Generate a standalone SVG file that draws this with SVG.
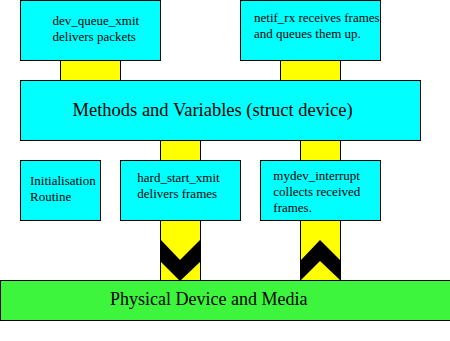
<svg xmlns="http://www.w3.org/2000/svg" width="450" height="341" viewBox="0 0 450 341">
<style>
.box{fill:#00ffff;stroke:#000;stroke-width:1}
.bar{fill:#ffff00;stroke:#000;stroke-width:1}
.phys{fill:#3cf53c;stroke:#000;stroke-width:1}
.chev{fill:#000;stroke:none}
.t{font-family:"Liberation Serif","Times New Roman",serif;font-size:13px;fill:#000}
.big{font-family:"Liberation Serif","Times New Roman",serif;font-size:18px;fill:#000}
</style>
<rect width="450" height="341" fill="#fff"/>
<g id="connectors">
<rect class="bar" x="60.5" y="60.5" width="60" height="20"/>
<rect class="bar" x="280.5" y="60.5" width="60" height="20"/>
<rect class="bar" x="160.5" y="140.5" width="40" height="20"/>
<rect class="bar" x="300.5" y="140.5" width="40" height="20"/>
<rect class="bar" x="160.5" y="220.5" width="40" height="60"/>
<rect class="bar" x="300.5" y="220.5" width="40" height="60"/>
<polygon class="chev" points="161,240 180,260 200,240 200,262 180,281 161,262"/>
<polygon class="chev" points="301,260 320,240 340,260 340,280 320,261 301,280"/>
</g>
<g id="dev_queue_xmit">
<rect class="box" x="20.5" y="0.5" width="140" height="60"/>
<text class="t" x="52.5" y="25">dev_queue_xmit</text>
<text class="t" x="52.5" y="40.7">delivers packets</text>
</g>
<g id="netif_rx">
<rect class="box" x="240.5" y="0.5" width="140" height="60"/>
<text class="t" x="254" y="22">netif_rx receives frames</text>
<text class="t" x="254" y="38">and queues them up.</text>
</g>
<g id="methods">
<rect class="box" x="20.5" y="80.5" width="400" height="60"/>
<text class="big" x="72.5" y="115.7" style="font-size:18.5px">Methods and Variables (struct device)</text>
</g>
<g id="init">
<rect class="box" x="20.5" y="160.5" width="80" height="60"/>
<text class="t" x="30" y="185">Initialisation</text>
<text class="t" x="30" y="201">Routine</text>
</g>
<g id="hard_start_xmit">
<rect class="box" x="120.5" y="160.5" width="120" height="60"/>
<text class="t" x="137.3" y="181.7">hard_start_xmit</text>
<text class="t" x="137.3" y="197.7">delivers frames</text>
</g>
<g id="mydev_interrupt">
<rect class="box" x="260.5" y="160.5" width="120" height="60"/>
<text class="t" x="273.3" y="180">mydev_interrupt</text>
<text class="t" x="273.3" y="196">collects received</text>
<text class="t" x="273.3" y="211.7">frames.</text>
</g>
<g id="physical">
<rect class="phys" x="0.5" y="280.5" width="460" height="40"/>
<text class="big" x="110" y="305">Physical Device and Media</text>
</g>
</svg>
